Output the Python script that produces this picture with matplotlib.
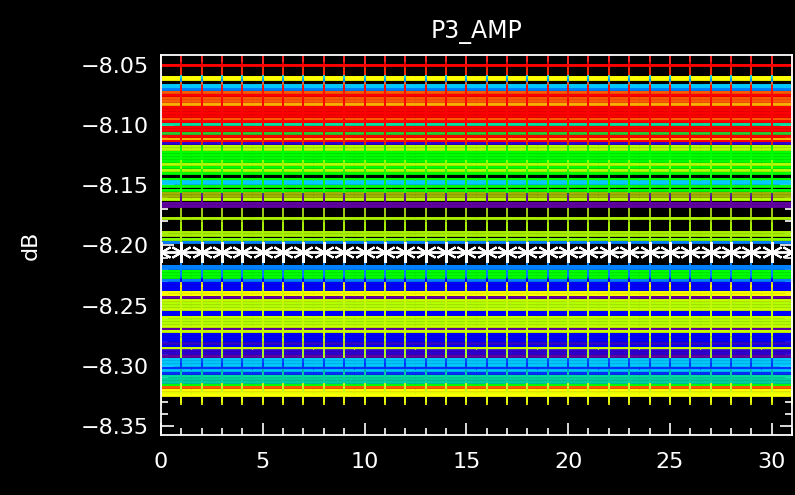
import numpy as np
import matplotlib
matplotlib.use("Agg")
import matplotlib.pyplot as plt
from matplotlib.ticker import MultipleLocator

# channel index along x
chan = np.arange(32)

# flat P3_AMP levels (dB), one per series -- background series
back_levels = [-8.0600, -8.0617, -8.0667, -8.0683, -8.0700, -8.0725, -8.0775, -8.0800,
               -8.0825, -8.0950, -8.0992, -8.1067, -8.1117, -8.1133, -8.1150, -8.1175,
               -8.1200, -8.1225, -8.1275, -8.1325, -8.1350, -8.1400, -8.1467, -8.1483,
               -8.1542, -8.1567, -8.1592, -8.1617, -8.1950, -8.1975, -8.2208, -8.2233,
               -8.2258, -8.2283, -8.2308, -8.2333, -8.2358, -8.2408, -8.2425, -8.2475,
               -8.2500, -8.2550, -8.2567, -8.2617, -8.2642, -8.2692, -8.2733, -8.2758,
               -8.2783, -8.2808, -8.2833, -8.2867, -8.2892, -8.2917, -8.2942, -8.2967,
               -8.2992, -8.3033, -8.3083, -8.3158, -8.3175, -8.3200, -8.3242]
back_colors = ['#ffff00', '#ffff00', '#00c8ff', '#00c8ff', '#0080ff', '#ff5a00', '#ff5a00', '#ff5a00',
               '#ffb000', '#ff5a00', '#00e0a0', '#30c830', '#ffb000', '#ff0000', '#3000d0', '#b4ff00',
               '#b4ff00', '#00ff00', '#00ff00', '#b4ff00', '#00ff00', '#00ff00', '#00c8ff', '#00c8ff',
               '#00ff00', '#a0b400', '#a0b400', '#b4ff00', '#80ff00', '#0080ff', '#00ff00', '#00ff00',
               '#00ff00', '#0080ff', '#0000ff', '#0000ff', '#0000ff', '#ffff00', '#6000a0', '#b4ff00',
               '#b4ff00', '#0000ff', '#0000ff', '#b4ff00', '#b4ff00', '#6000a0', '#0000ff', '#0000ff',
               '#0000ff', '#3000d0', '#0000ff', '#3000d0', '#3000d0', '#6000a0', '#00c8ff', '#00c8ff',
               '#00c8ff', '#00c8ff', '#00e0a0', '#00ff00', '#ff5a00', '#ffff00', '#ffff00']

# series drawn last (their + symbols form the visible vertical grid)
front_levels = [-8.0500, -8.0750, -8.0850, -8.0875, -8.0900, -8.0925, -8.0967, -8.1017,
                -8.1042, -8.1092,
                -8.1250, -8.1300, -8.1375, -8.1450, -8.1508,
                -8.1650, -8.1675,
                -8.1775, -8.1892, -8.1917,
                -8.2167, -8.2183,
                -8.2383, -8.2450, -8.2525, -8.2592, -8.2667, -8.2708, -8.2850,
                -8.3017, -8.3058,
                -8.3108, -8.3133,
                -8.3225]
front_colors = ['#ff0000'] * 10 + \
               ['#00ff00', '#00ff00', '#b4ff00', '#00ff00', '#00ff00'] + \
               ['#6000a0', '#6000a0'] + \
               ['#a8f000'] * 3 + \
               ['#0080ff', '#0080ff'] + \
               ['#ffff00', '#c8ff00', '#c8ff00', '#c8ff00', '#c8ff00', '#c8ff00', '#c8ff00'] + \
               ['#0030ff', '#0030ff'] + \
               ['#00d0a0', '#00d0a0'] + \
               ['#e8ff00']

# reference series (white, asterisks)
ref_level = -8.2058

fig = plt.figure(figsize=(7.95, 4.95), dpi=100, facecolor='black')
ax = fig.add_axes([161/795, 1-435/495, (792-161)/795, (435-55)/495])
ax.set_facecolor('black')

ms = 14
for lv, c in zip(back_levels + front_levels, back_colors + front_colors):
    ax.plot(chan, np.full(len(chan), lv), color=c, lw=2.0, solid_capstyle='butt')
for lv, c in zip(back_levels + front_levels, back_colors + front_colors):
    ax.plot(chan, np.full(len(chan), lv), ls='none', marker='+', ms=ms, mew=1.2, color=c)
ax.plot(chan, np.full(len(chan), ref_level), color='white', lw=2.0,
        marker=(6, 2, 0), ms=15, mew=1.5, mec='white')

ax.set_xlim(0, 31)
ax.set_ylim(-8.3575, -8.0417)
ax.xaxis.set_major_locator(MultipleLocator(5))
ax.xaxis.set_minor_locator(MultipleLocator(1))
ax.yaxis.set_major_locator(MultipleLocator(0.05))
ax.yaxis.set_minor_locator(MultipleLocator(0.01))
ax.yaxis.set_major_formatter(plt.FuncFormatter(lambda v, p: f"{v:.2f}".replace('-', '\u2212')))

for s in ax.spines.values():
    s.set_color('white')
    s.set_linewidth(1.3)
    s.set_zorder(5)
ax.tick_params(which='both', direction='in', colors='white', top=True, right=True,
               labelcolor='white', labelsize=16, width=1.2)
ax.tick_params(which='major', length=9)
ax.tick_params(which='minor', length=5)
ax.tick_params(axis='x', pad=12)
ax.tick_params(axis='y', pad=9)

ax.set_title("P3_AMP", color='white', fontsize=17, pad=12)
fig.text(31/795, 0.505, "dB", color='white', fontsize=16, rotation=90,
         ha='center', va='center')

plt.savefig("out.png", dpi=100, facecolor='black')
